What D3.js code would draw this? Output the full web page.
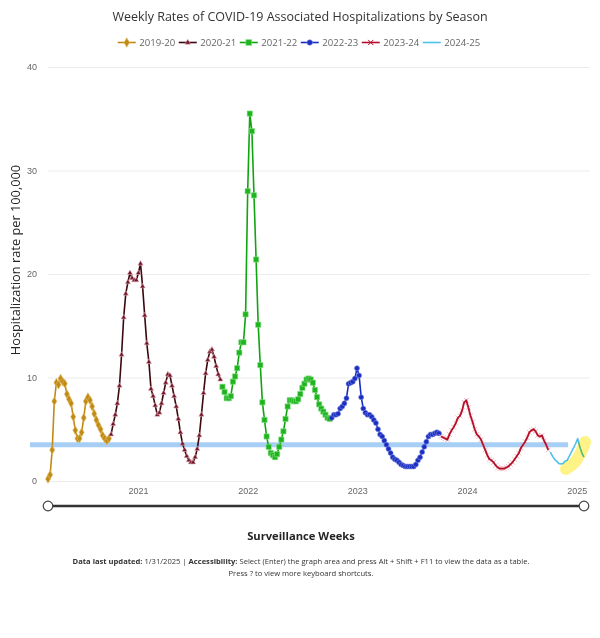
<!DOCTYPE html>
<html><head><meta charset="utf-8">
<script src="https://cdn.jsdelivr.net/npm/d3@7"></script>
<style>
body{margin:0;background:#fff;}
svg{font-family:"Open Sans","Noto Sans",sans-serif;}
</style></head><body>
<svg id="chart" width="600" height="638"></svg>
<script>
// ---------- data ----------
const seasons = ["2019-20","2020-21","2021-22","2022-23","2023-24","2024-25"];
const seasonStarts = ["2020-03-07","2020-10-03","2021-10-09","2022-10-08","2023-10-07","2024-10-05"];
const rates2019_20 = [0.2,0.6,3.0,7.7,9.5,9.3,9.9,9.6,9.4,8.4,7.9,7.5,6.2,4.9,4.1,4.1,4.7,6.1,7.7,8.1,7.8,7.2,6.5,5.9,5.4,5.0,4.4,4.1,3.9,4.1];
const rates2020_21 = [4.5,5.5,6.4,7.5,9.2,12.2,15.8,18.1,19.2,20.1,19.6,19.4,19.4,20.1,21.0,18.8,16.0,13.3,11.5,8.9,8.2,7.3,6.4,6.6,7.5,8.5,9.5,10.3,10.2,9.2,8.2,7.2,6.0,4.7,3.6,3.0,2.4,2.0,1.8,1.8,2.3,3.1,4.4,6.4,8.5,10.4,11.7,12.5,12.7,12.0,11.1,10.3,9.8];
const rates2021_22 = [9.1,8.6,8.0,8.0,8.2,9.6,10.1,10.9,12.4,13.4,13.4,16.1,28.0,35.5,33.8,27.6,21.4,15.1,11.2,7.6,5.9,4.3,3.3,2.7,2.5,2.3,2.6,3.3,4.0,4.8,6.0,7.2,7.8,7.8,7.7,7.7,7.9,8.4,9.0,9.4,9.8,9.9,9.8,9.5,8.8,8.1,7.4,7.0,6.7,6.4,6.1,6.0];
const rates2022_23 = [6.1,6.4,6.4,6.5,7.0,7.2,7.5,8.0,9.4,9.5,9.6,9.9,10.9,10.2,8.1,7.0,6.6,6.4,6.4,6.2,5.9,5.6,5.0,4.5,4.3,3.9,3.5,3.1,2.7,2.3,2.1,2.0,1.8,1.6,1.5,1.4,1.4,1.4,1.4,1.4,1.6,2.0,2.3,2.8,3.3,3.8,4.3,4.5,4.5,4.6,4.7,4.6];
const rates2023_24 = [4.3,4.2,4.1,4.0,4.5,4.9,5.2,5.6,6.1,6.3,6.8,7.6,7.8,7.1,6.3,5.7,5.0,4.5,4.3,4.0,3.5,3.0,2.5,2.1,2.0,1.8,1.5,1.3,1.2,1.2,1.2,1.3,1.4,1.6,1.8,2.1,2.4,2.7,3.2,3.5,3.8,4.2,4.7,4.9,5.0,4.8,4.4,4.3,4.4,3.9,3.5,3.0];
const rates2024_25 = [2.8,2.4,2.1,1.9,1.7,1.65,1.7,1.9,2.0,2.4,2.8,3.2,3.6,4.1,3.3,2.7,2.3];
const seriesValues = [rates2019_20,rates2020_21,rates2021_22,rates2022_23,rates2023_24,rates2024_25];
const yTicks = [0,10,20,30,40];
const xTickLabels = ["2021","2022","2023","2024","2025"];
// reference band (value and date extent)
const bandValue = 3.5;
const bandDates = ["2020-01-07","2024-12-03"];
// highlighter stroke over latest weeks of 2024-25: [week index, rate]
const highlightPts = [[7.4,1.16],[11.7,1.84],[14.6,2.8],[16.5,3.77]];

// ---------- styles ----------
const styles = [
  {line:"#c08a14", fill:"#c08a14", stroke:"#e2bd6a", sym:d3.symbolDiamond, size:22, lw:1.6, sw:0.6, under:false},
  {line:"#3a0810", fill:"#6e1426", stroke:"#e7b3bd", sym:d3.symbolTriangle, size:12, lw:1.6, sw:0.6, under:false},
  {line:"#10a510", fill:"#1fb41f", stroke:"#8be08b", sym:d3.symbolSquare, size:28, lw:1.6, sw:0.6, under:false},
  {line:"#1a2ec2", fill:"#1a2ec2", stroke:"#7f8ce0", sym:d3.symbolCircle, size:20, lw:1.6, sw:0.6, under:false},
  {line:"#b3102a", fill:"none", stroke:"#f0a9b3", sym:d3.symbolX, size:16, lw:1.8, sw:0.9, under:true},
  {line:"#4fc1ef", fill:null, stroke:null, sym:null, size:0, lw:1.6, sw:0, under:false}
];

const parse = d3.utcParse("%Y-%m-%d");
const series = seasons.map((s,k)=>{
  const start = parse(seasonStarts[k]);
  return {name:s, k, pts: seriesValues[k].map((v,i)=>({date:d3.utcDay.offset(start,7*i), v}))};
});
const allDates = series.flatMap(s=>s.pts.map(p=>p.date));

const svg = d3.select("#chart");
const x = d3.scaleUtc().domain(d3.extent(allDates)).range([48,584]);
const y = d3.scaleLinear().domain([0,40]).range([481,67]);
const gridRight = 590;

// gridlines + y labels
const yAxis = svg.append("g").attr("transform",`translate(${x.range()[0]},0)`)
  .call(d3.axisLeft(y).tickValues(yTicks).tickSize(-(gridRight-x.range()[0])).tickPadding(11));
yAxis.select(".domain").remove();
yAxis.selectAll(".tick line").attr("stroke","#ececec");
yAxis.selectAll("text").attr("fill","#666").style("font-size","9px");

// x axis labels
const xAxis = svg.append("g").attr("transform",`translate(0,${y(0)})`)
  .call(d3.axisBottom(x).tickValues(xTickLabels.map(t=>parse(t+"-01-01"))).tickFormat(d3.utcFormat("%Y")).tickSize(0).tickPadding(7));
xAxis.select(".domain").remove();
xAxis.selectAll("text").attr("fill","#666").style("font-size","9px");

// band
svg.append("line")
  .attr("x1",x(parse(bandDates[0]))).attr("x2",x(parse(bandDates[1])))
  .attr("y1",y(bandValue)).attr("y2",y(bandValue))
  .attr("stroke","#a7cff5").attr("stroke-width",5);

// series
const lineGen = d3.line().x(p=>x(p.date)).y(p=>y(p.v));
series.forEach(s=>{
  const st = styles[s.k];
  const g = svg.append("g");
  const drawLine = ()=>g.append("path").datum(s.pts).attr("d",lineGen)
    .attr("fill","none").attr("stroke",st.line).attr("stroke-width",st.lw).attr("stroke-linejoin","round");
  if(!st.under) drawLine();
  if(st.sym){
    g.selectAll("path.m").data(s.pts).join("path").attr("class","m")
      .attr("transform",p=>`translate(${x(p.date)},${y(p.v)})`)
      .attr("d",d3.symbol().type(st.sym).size(st.size))
      .attr("fill",st.fill).attr("stroke",st.stroke).attr("stroke-width",st.sw);
  }
  if(st.under) drawLine();
});

// highlighter
const hlStart = parse(seasonStarts[5]);
svg.append("path")
  .datum(highlightPts)
  .attr("d",d3.line().curve(d3.curveCatmullRom)
     .x(p=>x(d3.utcHour.offset(hlStart, p[0]*168))).y(p=>y(p[1])))
  .attr("fill","none").attr("stroke","#fff27a").attr("stroke-width",12)
  .attr("stroke-linecap","round").attr("opacity",0.9)
  .style("mix-blend-mode","multiply");

// title
svg.append("text").attr("x",300).attr("y",20.5).attr("text-anchor","middle")
  .attr("fill","#333").style("font-size","12.5px")
  .text("Weekly Rates of COVID-19 Associated Hospitalizations by Season");

// legend
const leg = svg.append("g").attr("transform","translate(0,42.5)");
let lx = 0;
const items = [];
series.forEach(s=>{
  const st = styles[s.k];
  const it = leg.append("g");
  it.append("line").attr("x1",0).attr("x2",18).attr("y1",0).attr("y2",0)
    .attr("stroke",st.line).attr("stroke-width",1.6);
  if(st.sym){
    it.append("path").attr("transform","translate(9,0)")
      .attr("d",d3.symbol().type(st.sym).size(st.size*1.2))
      .attr("fill",st.fill).attr("stroke",s.k===4?st.line:st.stroke).attr("stroke-width",s.k===4?1:0.6);
  }
  const t = it.append("text").attr("x",21.5).attr("y",3.3).attr("fill","#666")
    .style("font-size","9.6px").text(s.name);
  const w = 21.5 + t.node().getComputedTextLength();
  items.push({it, w});
});
let total = d3.sum(items, d=>d.w) + 3.5*(items.length-1);
lx = 299 - total/2;
items.forEach(d=>{ d.it.attr("transform",`translate(${lx},0)`); lx += d.w + 3.5; });

// y title
svg.append("text").attr("transform","translate(19.5,260) rotate(-90)")
  .attr("text-anchor","middle").attr("fill","#252423").style("font-size","12.8px")
  .text("Hospitalization rate per 100,000");

// slider
svg.append("line").attr("x1",x.range()[0]).attr("x2",x.range()[1]).attr("y1",506).attr("y2",506)
  .attr("stroke","#333").attr("stroke-width",2.5);
svg.selectAll("circle.h").data(x.range()).join("circle").attr("class","h")
  .attr("cx",d=>d).attr("cy",506).attr("r",4.8)
  .attr("fill","#fff").attr("stroke","#444").attr("stroke-width",1.2);

// x title
svg.append("text").attr("x",301).attr("y",540).attr("text-anchor","middle")
  .attr("fill","#252423").style("font-size","11.2px").style("font-weight","bold")
  .text("Surveillance Weeks");

// footer
const f1 = svg.append("text").attr("x",301).attr("y",564).attr("text-anchor","middle")
  .attr("fill","#333").style("font-size","7.6px");
f1.append("tspan").style("font-weight","bold").text("Data last updated:");
f1.append("tspan").text(" 1/31/2025 | ");
f1.append("tspan").style("font-weight","bold").text("Accessibility:");
f1.append("tspan").text(" Select (Enter) the graph area and press Alt + Shift + F11 to view the data as a table.");
svg.append("text").attr("x",301).attr("y",576).attr("text-anchor","middle")
  .attr("fill","#333").style("font-size","7.6px")
  .text("Press ? to view more keyboard shortcuts.");
</script>
</body></html>
